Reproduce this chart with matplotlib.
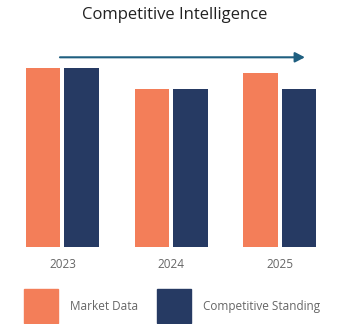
import matplotlib
matplotlib.use("Agg")
import matplotlib.pyplot as plt
import numpy as np
from matplotlib.patches import Patch

# chart data
years = ["2023", "2024", "2025"]
market_data = [179, 158, 174]
competitive_standing = [179, 158, 158]
series_names = ["Market Data", "Competitive Standing"]

ORANGE = "#F37E59"
NAVY = "#263A63"
ARROW = "#1F5F80"

plt.rcParams["font.family"] = ["Open Sans", "DejaVu Sans"]

fig = plt.figure(figsize=(3.5, 3.24), dpi=100)
W, H = 350, 324
# axes in pixel terms: left 15, width 320, bottom at y=246.7, top at y=40
ax = fig.add_axes([15 / W, (H - 246.7) / H, 320 / W, 206.7 / H])

x = np.arange(len(years))
bw = 0.318
off = 0.177
ax.bar(x - off, market_data, width=bw, color=ORANGE)
ax.bar(x + off, competitive_standing, width=bw, color=NAVY)

ax.set_xlim(-0.437, 2.510)
ax.set_ylim(0, 206.7)
ax.set_xticks(x)
ax.set_xticklabels(years, fontsize=8.5, color="#666666")
ax.tick_params(axis="x", length=0, pad=8)
ax.set_yticks([])
for s in ax.spines.values():
    s.set_visible(False)

# trend arrow across the top
ax.annotate("", xy=(2.233, 189.4), xytext=(-0.023, 189.4),
            arrowprops=dict(arrowstyle="-|>,head_length=0.58,head_width=0.3",
                            color=ARROW, lw=1.5, shrinkA=0, shrinkB=0))

fig.text(175 / W, 1 - 15 / H, "Competitive Intelligence", ha="center", va="center",
         fontsize=12, color="#222222")

handles = [Patch(color=ORANGE), Patch(color=NAVY)]
fig.legend(handles, series_names, loc="lower left", bbox_to_anchor=(18 / W, -5.3 / H),
           ncol=2, frameon=False, fontsize=8.5, labelcolor="#666666", borderpad=0,
           handlelength=2.88, handleheight=4.05, handletextpad=1.02, columnspacing=1.64)

fig.savefig("out.png", dpi=100, facecolor="white")
